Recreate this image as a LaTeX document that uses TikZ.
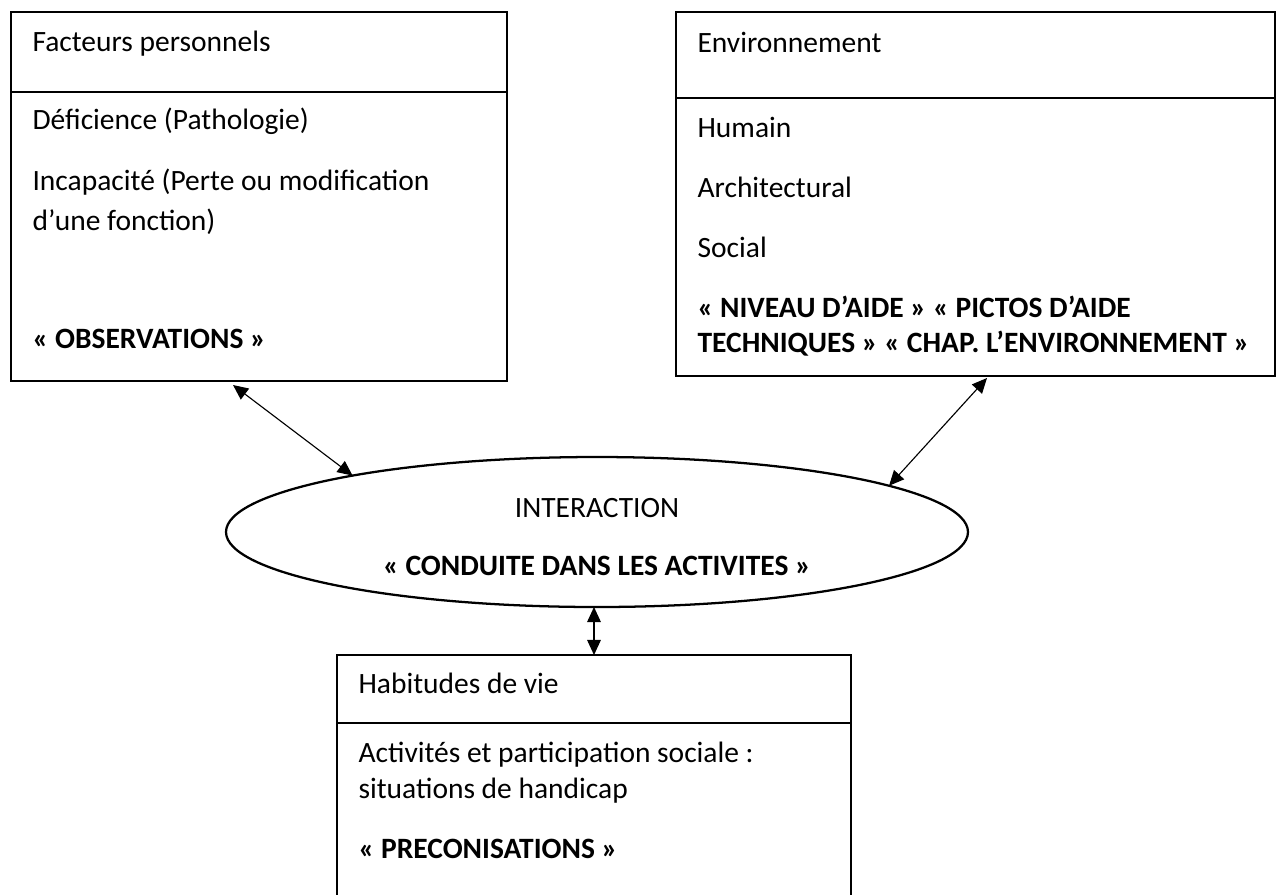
\documentclass[tikz,border=0pt]{standalone}
\usepackage{fontspec}
\setmainfont{Carlito}
\usetikzlibrary{calc, fit, shapes.geometric, arrows.meta}
\def\px{0.3526pt}

\begin{document}
\begin{tikzpicture}[x=\px, y=-\px, >={Triangle[length=5.3pt, width=4.8pt]},
    cadre/.style={draw, line width=0.6pt, inner sep=0pt, outer sep=0pt},
    txt/.style={anchor=base west, inner sep=0pt, font=\fontsize{10.4}{13.4}\selectfont},
    gras/.style={txt, font=\fontsize{10.4}{13.4}\selectfont\bfseries},
    lien/.style={<->, line width=0.4pt}]
    \useasboundingbox (0,0) rectangle (1277,894);
    \clip (0,0) rectangle (1277,894);

    % Facteurs personnels
    \node[cadre, fit={(11,12) (507,92)}] (fpTete) {};
    \node[cadre, fit={(11,92) (507,381)}] (fpCorps) {};
    \node[txt] (fpNom) at (32,51) {Facteurs personnels};
    \node[txt] (fpDef) at (32,129) {Déficience (Pathologie)};
    \node[txt] (fpInc) at (32,190) {Incapacité (Perte ou modification};
    \node[txt] (fpFon) at (32,230) {d’une fonction)};
    \node[gras] (fpObs) at (32,348) {«~OBSERVATIONS~»};

    % Environnement
    \node[cadre, fit={(676,12) (1275,98)}] (envTete) {};
    \node[cadre, fit={(676,98) (1275,376)}] (envCorps) {};
    \node[txt] (envNom) at (697,52) {Environnement};
    \node[txt] (envHum) at (697,137) {Humain};
    \node[txt] (envArc) at (697,197) {Architectural};
    \node[txt] (envSoc) at (697,257) {Social};
    \node[gras] (envAide) at (697,317) {«~NIVEAU D’AIDE~» «~PICTOS D’AIDE};
    \node[gras] (envChap) at (697,352) {TECHNIQUES~» «~CHAP. L’ENVIRONNEMENT~»};

    % Interaction
    \node[ellipse, draw, line width=0.8pt, minimum width=742*\px, minimum height=150*\px,
        inner sep=0pt, outer sep=0pt] (inter) at (597,532) {};
    \node[txt, anchor=base] (interNom) at (597,517) {INTERACTION};
    \node[gras, anchor=base] (interCond) at (597,575) {«~CONDUITE DANS LES ACTIVITES~»};

    % Habitudes de vie
    \node[cadre, fit={(337,655) (851,723)}] (hvTete) {};
    \node[cadre, fit={(337,723) (851,910)}] (hvCorps) {};
    \node[txt] (hvNom) at (358,693) {Habitudes de vie};
    \node[txt] (hvAct) at (358,762) {Activités et participation sociale :};
    \node[txt] (hvSit) at (358,798) {situations de handicap};
    \node[gras] (hvPre) at (358,858) {«~PRECONISATIONS~»};

    % Liens
    \draw[lien] ($(fpCorps.south west)+(222,4)$) -- (inter.167.5);
    \draw[lien] ($(envCorps.south west)+(311,2)$) -- (inter.9);
    \draw[lien] (inter.south -| hvTete.north) -- (hvTete.north);
\end{tikzpicture}
\end{document}
